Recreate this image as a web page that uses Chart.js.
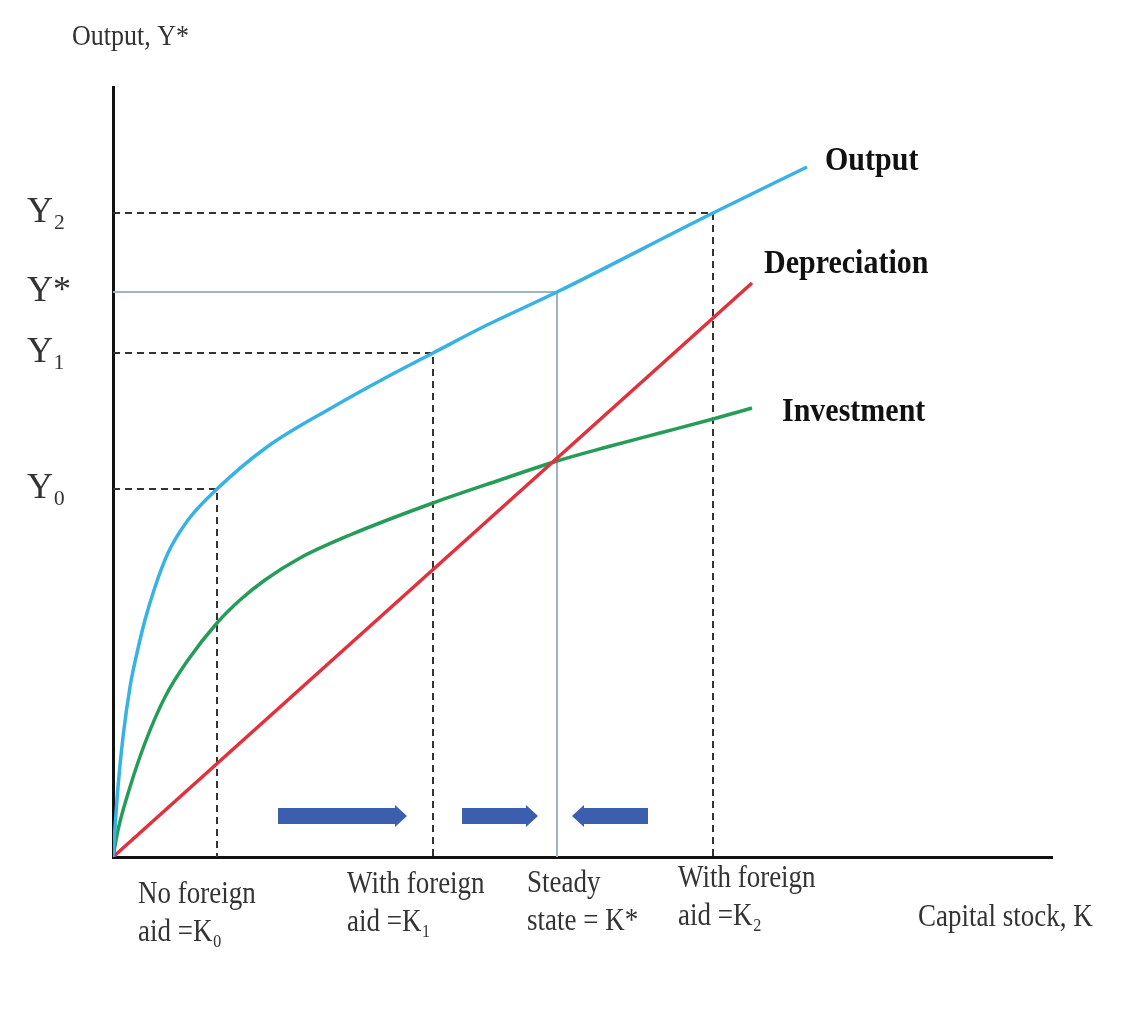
<!DOCTYPE html>
<html>
<head>
<meta charset="utf-8">
<script src="https://cdn.jsdelivr.net/npm/chart.js@4.4.1/dist/chart.umd.min.js"></script>
<style>
  html, body { margin: 0; padding: 0; background: #fff; }
  #wrap { width: 1130px; height: 1023px; position: relative; }
</style>
</head>
<body>
<div id="wrap"><canvas id="solowChart"></canvas></div>
<script>
// Output curve: capital stock K -> output Y
const outputK = [0, 0.5, 1.0, 1.7, 2.4, 3.2, 4.2, 5.5, 7.5, 10.4, 15.4, 22.0, 27.4, 32.0, 37.0, 44.4, 60.0, 69.4];
const outputY = [0, 7.0, 12.0, 17.0, 20.4, 23.7, 27.0, 30.4, 33.7, 36.8, 41.0, 45.0, 48.0, 50.4, 53.0, 56.5, 64.4, 69.0];

// Investment curve
const investK = [0, 0.5, 1.7, 3.2, 5.2, 7.5, 10.4, 12.7, 15.2, 18.7, 23.7, 32.0, 38.7, 44.4, 49.4, 54.7, 60.0, 63.9];
const investY = [0, 2.7, 7.0, 11.4, 16.0, 19.7, 23.4, 25.7, 27.7, 29.9, 32.2, 35.4, 37.7, 39.6, 41.0, 42.4, 43.8, 44.9];

// Depreciation (straight line)
const deprecK = [0, 63.9];
const deprecY = [0, 57.4];

// Marked capital levels and output levels
const kValues = [10.4, 32.0, 44.4, 60.0];
const kLabels = [['No foreign', 'aid =K₀'], ['With foreign', 'aid =K₁'], ['Steady', 'state = K*'], ['With foreign', 'aid =K₂']];
const yValues = [36.8, 50.4, 56.5, 64.4];
const yLabels = ['Y₀', 'Y₁', 'Y*', 'Y₂'];

// Adjustment arrows (from K -> to K)
const arrowFrom = [16.5, 34.9, 53.5];
const arrowTo = [29.4, 42.5, 45.9];
const arrowLevel = 4.1;

const serif = '"Liberation Serif", "Times New Roman", serif';

const zip = (xs, ys) => xs.map((v, i) => ({x: v, y: ys[i]}));

// draws text slightly taller than wide, like the scanned figure
function tallText(ctx, text, x, y, font, color) {
    ctx.save();
    ctx.font = font;
    ctx.fillStyle = color;
    ctx.textAlign = 'left';
    ctx.textBaseline = 'middle';
    ctx.translate(x, y);
    ctx.scale(1, 1.15);
    ctx.fillText(text, 0, 0);
    ctx.restore();
}

// Guide lines from the axes to the curve
const guideSets = kValues.map((k, i) => ({
    label: 'guide' + i,
    data: [{x: 0, y: yValues[i]}, {x: k, y: yValues[i]}, {x: k, y: 0}],
    borderColor: i === 2 ? '#9fb3c6' : '#333333',
    borderWidth: 2,
    borderDash: i === 2 ? [] : [7, 5],
    pointRadius: 0,
    tension: 0,
    order: 5
}));

// Labels, arrows and axis titles
const solowDecor = {
    id: 'solowDecor',
    afterDatasetsDraw(chart) {
        const {ctx, scales: {x, y}} = chart;

        // arrows
        ctx.save();
        ctx.fillStyle = '#3b5fae';
        arrowFrom.forEach((k, i) => {
            const x0 = x.getPixelForValue(k);
            const x1 = x.getPixelForValue(arrowTo[i]);
            const yc = y.getPixelForValue(arrowLevel);
            const head = 12 * Math.sign(x1 - x0);
            ctx.beginPath();
            ctx.moveTo(x0, yc - 8);
            ctx.lineTo(x1 - head, yc - 8);
            ctx.lineTo(x1 - head, yc - 11);
            ctx.lineTo(x1, yc);
            ctx.lineTo(x1 - head, yc + 11);
            ctx.lineTo(x1 - head, yc + 8);
            ctx.lineTo(x0, yc + 8);
            ctx.closePath();
            ctx.fill();
        });
        ctx.restore();

        // curve names next to the line ends
        const bold = 'bold 30px ' + serif;
        const ends = [
            ['Output', outputK, outputY, 18, -6],
            ['Depreciation', deprecK, deprecY, 12, -19],
            ['Investment', investK, investY, 30, 4]
        ];
        ends.forEach(([name, ks, ys, dx, dy]) => {
            const n = ks.length - 1;
            tallText(ctx, name, x.getPixelForValue(ks[n]) + dx, y.getPixelForValue(ys[n]) + dy, bold, '#111');
        });

        // capital stock labels below the axis
        const plain = '27px ' + serif;
        const shiftX = [-79, -86, -30, -35];
        const drop = [38, 28, 27, 22];
        kValues.forEach((k, i) => {
            const lx = x.getPixelForValue(k) + shiftX[i];
            const ly = y.bottom + drop[i];
            tallText(ctx, kLabels[i][0], lx, ly, plain, '#333');
            tallText(ctx, kLabels[i][1], lx, ly + 38, plain, '#333');
        });

        // axis titles
        tallText(ctx, 'Capital stock, K', 918, 918, plain, '#333');
        tallText(ctx, 'Output, Y*', 72, 37, '26px ' + serif, '#333');
    }
};

const solowConfig = {
    type: 'line',
    data: {
        datasets: [
            {label: 'Output', data: zip(outputK, outputY), borderColor: '#38b2e3', borderWidth: 3.5,
             pointRadius: 0, cubicInterpolationMode: 'monotone', order: 1},
            {label: 'Depreciation', data: zip(deprecK, deprecY), borderColor: '#e0313d', borderWidth: 3.5,
             pointRadius: 0, tension: 0, order: 2},
            {label: 'Investment', data: zip(investK, investY), borderColor: '#259c58', borderWidth: 3.5,
             pointRadius: 0, cubicInterpolationMode: 'monotone', order: 3},
            ...guideSets
        ]
    },
    options: {
        responsive: true,
        maintainAspectRatio: false,
        animation: false,
        layout: {padding: {left: 27, top: 87, right: 78, bottom: 166}},
        plugins: {
            legend: {display: false},
            tooltip: {enabled: false}
        },
        scales: {
            x: {
                type: 'linear',
                min: 0,
                max: 93.9,
                grid: {display: false, drawTicks: false},
                border: {display: true, color: '#111', width: 3},
                ticks: {display: false},
                afterFit: s => { s.height = 0; }
            },
            y: {
                type: 'linear',
                min: 0,
                max: 77,
                grid: {display: false, drawTicks: false},
                border: {display: true, color: '#111', width: 3},
                afterBuildTicks: s => { s.ticks = yValues.map(v => ({value: v})); },
                afterFit: s => { s.width = 86; },
                ticks: {
                    autoSkip: false,
                    crossAlign: 'far',
                    padding: 0,
                    color: '#333',
                    font: {family: serif, size: 36},
                    callback: (v, i) => yLabels[i]
                }
            }
        }
    },
    plugins: [solowDecor]
};

const solowChart = new Chart(document.getElementById('solowChart'), solowConfig);
</script>
</body>
</html>
